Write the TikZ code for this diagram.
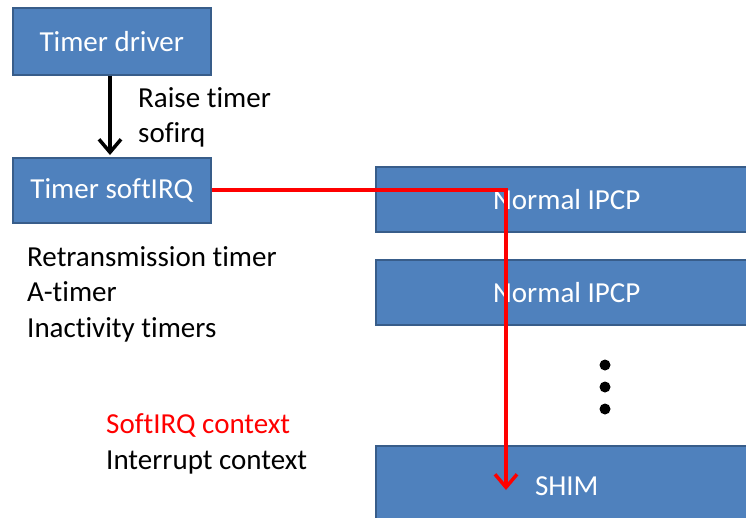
\documentclass[tikz,border=0pt]{standalone}
\usepackage{fontspec}
\setmainfont[Ligatures=NoCommon]{Carlito}
\usetikzlibrary{arrows.meta}
\definecolor{boxfill}{HTML}{4F81BD}
\definecolor{boxline}{HTML}{385D8A}
\definecolor{ctxred}{HTML}{FF0000}
\tikzset{
  block/.style={draw=boxline, line width=1.5pt, fill=boxfill, text=white,
    inner sep=0pt, font=\fontsize{29}{35.5}\selectfont, anchor=north west},
  label/.style={inner sep=0pt, anchor=north west, align=left,
    font=\fontsize{29}{35.5}\selectfont},
  flow/.style={line width=3.5pt, -{Straight Barb[length=13pt,width=22pt,line width=3.5pt]}},
}
\begin{document}
\begin{tikzpicture}[x=1pt,y=-1pt]
  \useasboundingbox (0,0) rectangle (746,517);
  \clip (0,0) rectangle (746,517);

  % left column
  \node[block, minimum width=198pt, minimum height=67pt] (driver) at (12,7) {Timer driver};
  \node[block, minimum width=198pt, minimum height=65pt] (softirq) at (12,157) {Timer softIRQ};

  % right stack
  \node[block, minimum width=382pt, minimum height=65pt] (ipcp1) at (375,166) {Normal IPCP};
  \node[block, minimum width=382pt, minimum height=65pt] (ipcp2) at (375,259) {Normal IPCP};
  \node[block, minimum width=382pt, minimum height=80pt] (shim) at (375,445) {SHIM};

  % ellipsis between the stack entries
  \foreach \yy in {365,387,409} \fill (605,\yy) circle (5.5pt);

  % texts
  \node[label] (raise) at (138,87) {Raise timer\\sofirq};
  \node[label] (timers) at (27,246) {Retransmission timer\\A-timer\\Inactivity timers};
  \node[label, text=ctxred] (ctxs) at (106,413) {SoftIRQ context};
  \node[label] (ctxi) at (106,451) {Interrupt context};

  % connectors
  \draw[flow, black] (driver.south -| 110,0) -- (110,155);
  \coordinate (turn) at (506,190);
  \coordinate (redend) at (506,490);
  \draw[flow, ctxred] (softirq.east |- turn) -- (turn) -- (redend);
\end{tikzpicture}
\end{document}
